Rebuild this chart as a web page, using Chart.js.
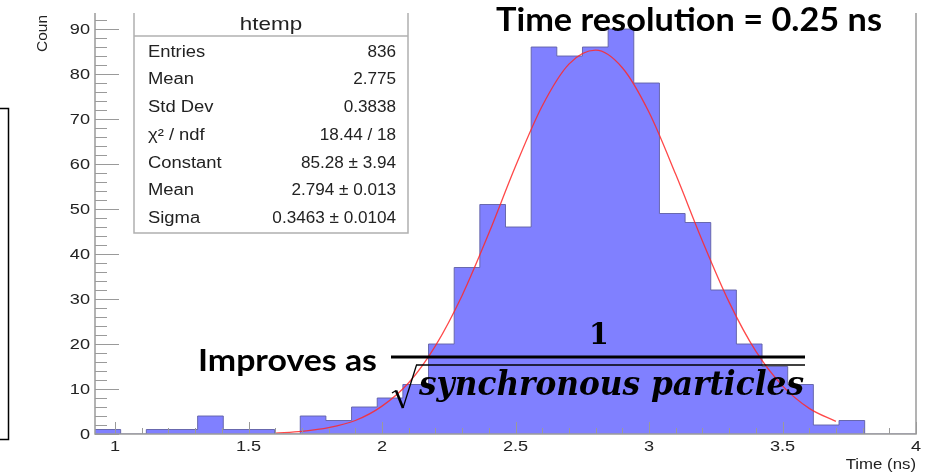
<!DOCTYPE html>
<html><head><meta charset="utf-8">
<script src="https://cdn.jsdelivr.net/npm/chart.js@4"></script>
<style>html,body{margin:0;padding:0;background:#fff}#wrap{width:933px;height:472px;position:relative}canvas{display:block}</style>
</head><body><div id="wrap"><canvas id="c" width="933" height="472"></canvas></div>
<script>
// ---- data ----
const binEdges = [0.925,1.0211,1.1172,1.2133,1.3094,1.4055,1.5016,1.5977,1.6938,1.7898,1.8859,1.9820,2.0781,2.1742,2.2703,2.3664,2.4625,2.5586,2.6547,2.7508,2.8469,2.9430,3.0391,3.1352,3.2313,3.3273,3.4234,3.5195,3.6156,3.7117,3.8078,3.9039,4.0];
const binCounts = [1,0,1,1,4,1,1,0,4,3,6,8,11,20,37,51,46,86,84,86,90,78,49,47,32,20,15,11,2,3,0,0];
const fitX = [1.6,1.7,1.8,1.9,2.0,2.1,2.2,2.3,2.4,2.5,2.6,2.7,2.8,2.9,3.0,3.1,3.2,3.3,3.4,3.5,3.6,3.7];
const fitY = [0.2,0.6,1.4,3.0,6.2,11.4,19.6,30.8,44.6,59.5,72.9,82.2,85.3,81.4,71.5,57.7,42.9,29.3,18.4,10.7,5.7,2.8];
const xTickValues = [1,1.5,2,2.5,3,3.5,4];
const xTickLabels = ['1','1.5','2','2.5','3','3.5','4'];
const yTickValues = [0,10,20,30,40,50,60,70,80,90];
const yTickLabels = ['0','10','20','30','40','50','60','70','80','90'];
const xTitle = 'Time (ns)';
const yTitle = 'Coun';
const statsTitle = 'htemp';
const statsLabels = ['Entries','Mean','Std Dev','\u03C7\u00B2 / ndf','Constant','Mean','Sigma'];
const statsValues = ['836','2.775','0.3838','18.44 / 18','85.28 \u00B1 3.94','2.794 \u00B1 0.013','0.3463 \u00B1 0.0104'];
const headline = 'Time resolution = 0.25 ns';
const improvesText = 'Improves as';
const numeratorText = '1';
const denominatorText = 'synchronous particles';

// ---- build datasets ----
const histPoints = binCounts.map((c,i)=>({x:binEdges[i], y:c}));
histPoints.push({x:binEdges[binEdges.length-1], y:binCounts[binCounts.length-1]});
const fitPoints = fitX.map((x,i)=>({x, y:fitY[i]}));

function drawText(ctx, s, x, y, o){
  ctx.save();
  ctx.font = o.font;
  ctx.fillStyle = o.color || '#000';
  ctx.letterSpacing = o.ls || '0px';
  ctx.textBaseline = 'alphabetic';
  ctx.textAlign = 'left';
  let w = ctx.measureText(s).width;
  let sx = o.width ? o.width / w : (o.sx || 1);
  let ww = w * sx;
  let x0 = x;
  if (o.align === 'right') x0 = x - ww;
  else if (o.align === 'center') x0 = x - ww/2;
  ctx.translate(x0, y);
  ctx.scale(sx, 1);
  ctx.fillText(s, 0, 0);
  ctx.restore();
}

const rootPlugin = {
  id: 'rootdeco',
  afterDatasetsDraw(chart){
    const ctx = chart.ctx, a = chart.chartArea;
    const xs = chart.scales.x, ys = chart.scales.y;
    ctx.save();
    ctx.strokeStyle = '#9a9a9a';
    ctx.lineWidth = 1;
    // y ticks
    for (let v = 0; v <= 93; v += 2){
      const y = Math.round(ys.getPixelForValue(v)) + 0.5;
      const len = (v % 10 === 0) ? 24 : 12;
      ctx.beginPath(); ctx.moveTo(a.left, y); ctx.lineTo(a.left + len, y); ctx.stroke();
    }
    // x ticks
    for (let i = 10; i <= 40; i++){
      const v = i/10;
      const x = Math.round(xs.getPixelForValue(v)) + 0.5;
      const len = (i % 5 === 0) ? 12 : 6;
      ctx.beginPath(); ctx.moveTo(x, a.bottom); ctx.lineTo(x, a.bottom - len); ctx.stroke();
    }
    // frame
    ctx.lineWidth = 1.5;
    ctx.beginPath();
    ctx.moveTo(a.left, a.top); ctx.lineTo(a.left, a.bottom); ctx.lineTo(a.right, a.bottom); ctx.lineTo(a.right, a.top);
    ctx.stroke();
    ctx.restore();

    // tick labels
    yTickValues.forEach((v,i)=>{
      drawText(ctx, yTickLabels[i], a.left - 5, ys.getPixelForValue(v) + 5, {font:'14.5px "Liberation Sans", Arial, sans-serif', color:'#222', align:'right', sx:1.25});
    });
    xTickValues.forEach((v,i)=>{
      drawText(ctx, xTickLabels[i], xs.getPixelForValue(v), a.bottom + 17, {font:'14.5px "Liberation Sans", Arial, sans-serif', color:'#222', align:'center', sx:1.25});
    });
    drawText(ctx, xTitle, a.right, a.bottom + 35, {font:'14px "Liberation Sans", Arial, sans-serif', color:'#222', align:'right', sx:1.2});
    ctx.save();
    ctx.translate(47, 52);
    ctx.rotate(-Math.PI/2);
    drawText(ctx, yTitle, 0, 0, {font:'15.5px "Liberation Sans", Arial, sans-serif', color:'#222', sx:1.0});
    ctx.restore();

    // stats box (top edge cut off as in the reference)
    ctx.save();
    ctx.fillStyle = '#fff';
    ctx.strokeStyle = '#b0b0b0';
    ctx.lineWidth = 1.5;
    ctx.fillRect(134, 13, 274, 220);
    ctx.beginPath();
    ctx.moveTo(134, 13); ctx.lineTo(134, 233); ctx.lineTo(408, 233); ctx.lineTo(408, 13);
    ctx.stroke();
    ctx.beginPath(); ctx.moveTo(134, 36); ctx.lineTo(408, 36); ctx.stroke();
    ctx.restore();
    drawText(ctx, statsTitle, 271, 30, {font:'19px "Liberation Sans", Arial, sans-serif', color:'#222', align:'center', sx:1.18});
    statsLabels.forEach((s,i)=>{
      const y = 56.7 + i*27.7;
      drawText(ctx, s, 148, y, {font:'16px "Liberation Sans", Arial, sans-serif', color:'#222', sx:1.15});
      drawText(ctx, statsValues[i], 396, y, {font:'16px "Liberation Sans", Arial, sans-serif', color:'#222', align:'right', sx:1.07});
    });
  },
  afterDraw(chart){
    const ctx = chart.ctx;
    // slide box edge at left
    ctx.save();
    ctx.strokeStyle = '#000'; ctx.lineWidth = 1.5;
    ctx.strokeRect(-5, 108.5, 13.5, 331);
    ctx.restore();
    // overlay annotations
    drawText(ctx, headline, 496, 31, {font:'bold 32px Lato, "Open Sans", sans-serif', width:386});
    drawText(ctx, improvesText, 198, 371, {font:'bold 31px Lato, "Open Sans", sans-serif', width:179});
    drawText(ctx, numeratorText, 599, 343.5, {font:'bold 30px "DejaVu Serif", serif', align:'center', sx:0.95});
    ctx.save();
    ctx.strokeStyle = '#000';
    ctx.lineWidth = 3;
    ctx.beginPath(); ctx.moveTo(391, 357); ctx.lineTo(805, 357); ctx.stroke();
    ctx.lineWidth = 1.6;
    ctx.beginPath(); ctx.moveTo(416, 365); ctx.lineTo(805, 365); ctx.stroke();
    // radical sign
    ctx.lineWidth = 1.3;
    ctx.beginPath(); ctx.moveTo(392, 393); ctx.lineTo(396, 390.5); ctx.stroke();
    ctx.lineWidth = 2.6;
    ctx.beginPath(); ctx.moveTo(396, 390.5); ctx.lineTo(403, 408); ctx.stroke();
    ctx.lineWidth = 1.3;
    ctx.beginPath(); ctx.moveTo(403, 408); ctx.lineTo(416.5, 365); ctx.stroke();
    ctx.restore();
    drawText(ctx, denominatorText, 419, 395, {font:'italic bold 33px "DejaVu Serif", serif', width:385});
  }
};

new Chart(document.getElementById('c'), {
  type: 'line',
  data: {
    datasets: [
      { label:'fit', data: fitPoints, borderColor:'rgba(255,40,40,0.85)', borderWidth:1.3, pointRadius:0, fill:false, cubicInterpolationMode:'monotone' },
      { label:'htemp', data: histPoints, stepped:true, borderColor:'rgba(95,95,165,0.9)', borderWidth:1, backgroundColor:'rgb(128,128,255)', fill:'origin', pointRadius:0 }
    ]
  },
  options: {
    responsive:false, animation:false, devicePixelRatio:1,
    layout:{ padding:{ left:95, right:17, top:13, bottom:38 } },
    plugins:{ legend:{display:false}, tooltip:{enabled:false} },
    scales:{
      x:{ type:'linear', min:0.925, max:4.0, display:false },
      y:{ type:'linear', min:0, max:93.56, display:false }
    }
  },
  plugins:[rootPlugin]
});
</script></body></html>
